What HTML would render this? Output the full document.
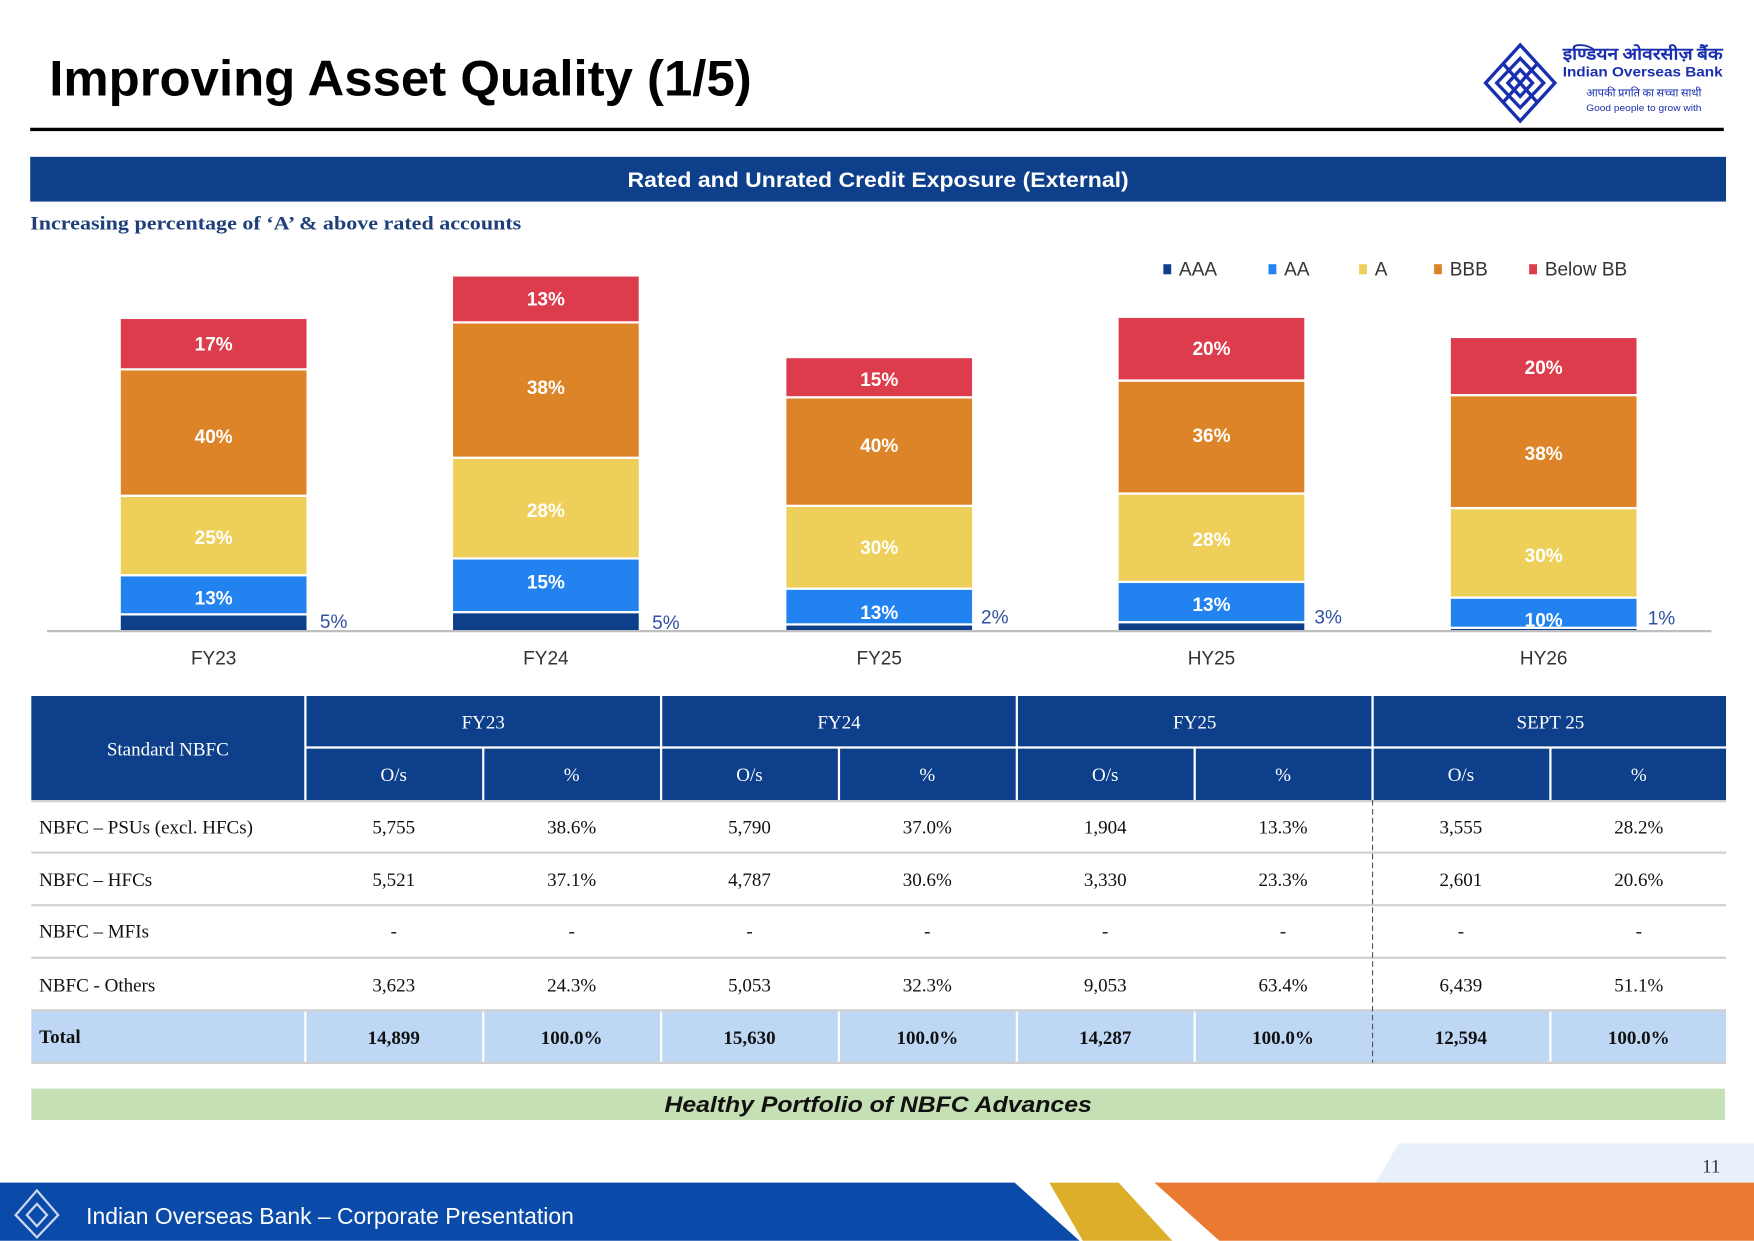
<!DOCTYPE html>
<html><head><meta charset="utf-8"><style>html,body{margin:0;padding:0;background:#fff}svg{display:block}</style></head>
<body>
<svg width="1754" height="1241" viewBox="0 0 1568 1109" xmlns="http://www.w3.org/2000/svg" font-family="Liberation Sans, sans-serif">
<rect width="1568" height="1109" fill="#fff"/>
<text x="44" y="85" font-size="45" font-weight="bold" fill="#000" textLength="628" lengthAdjust="spacingAndGlyphs">Improving Asset Quality (1/5)</text>
<!-- logo -->
<g fill="none" stroke="#1a2fb0" stroke-width="3">
<polygon points="1359,40 1390,74 1359,108 1328,74"/>
<polygon points="1359,52 1380,74 1359,96 1338,74"/>
<polygon points="1359,62 1370,74 1359,86 1348,74"/>
<line x1="1344" y1="57" x2="1374" y2="91"/><line x1="1374" y1="57" x2="1344" y2="91"/>
</g>
<text x="1397" y="53" font-family="Noto Sans CJK SC, sans-serif" font-size="15" font-weight="bold" fill="#1a2fb0" textLength="143" lengthAdjust="spacingAndGlyphs">इण्डियन ओवरसीज़ बैंक</text>
<text x="1397" y="68" font-size="12.5" font-weight="bold" fill="#1a2fb0" textLength="143" lengthAdjust="spacingAndGlyphs">Indian Overseas Bank</text>
<text x="1418" y="86" font-family="Noto Sans CJK SC, sans-serif" font-size="10" fill="#1a2fb0" textLength="103" lengthAdjust="spacingAndGlyphs">आपकी प्रगति का सच्चा साथी</text>
<text x="1418" y="99" font-size="8.5" fill="#1a2fb0" textLength="103" lengthAdjust="spacingAndGlyphs">Good people to grow with</text>
<rect x="27" y="114" width="1514" height="3" fill="#000"/>
<rect x="27" y="140" width="1516" height="40" fill="#0d3f8a"/>
<text x="785" y="167" font-size="19" font-weight="bold" fill="#fff" text-anchor="middle" textLength="448" lengthAdjust="spacingAndGlyphs">Rated and Unrated Credit Exposure (External)</text>
<text x="27" y="205" font-family="Liberation Serif, serif" font-size="17" font-weight="bold" fill="#1f3f7a" textLength="439" lengthAdjust="spacingAndGlyphs">Increasing percentage of ‘A’ &amp; above rated accounts</text>
<!-- legend -->
<g font-size="17" fill="#333">
<rect x="1040" y="236" width="7" height="9" fill="#0d3f8a"/><text x="1054" y="246">AAA</text>
<rect x="1134" y="236" width="7" height="9" fill="#2283f0"/><text x="1148" y="246">AA</text>
<rect x="1215" y="236" width="7" height="9" fill="#eecf5a"/><text x="1229" y="246">A</text>
<rect x="1282" y="236" width="7" height="9" fill="#de8428"/><text x="1296" y="246">BBB</text>
<rect x="1367" y="236" width="7" height="9" fill="#dc3c4c"/><text x="1381" y="246">Below BB</text>
</g>
<!-- bars -->
<g stroke="#fff" stroke-width="2">
<rect x="107" y="549" width="168" height="15" fill="#0d3f8a"/><rect x="107" y="514" width="168" height="35" fill="#2283f0"/><rect x="107" y="443" width="168" height="71" fill="#eecf5a"/><rect x="107" y="330" width="168" height="113" fill="#de8428"/><rect x="107" y="284" width="168" height="46" fill="#dc3c4c"/>
<rect x="404" y="547" width="168" height="17" fill="#0d3f8a"/><rect x="404" y="499" width="168" height="48" fill="#2283f0"/><rect x="404" y="409" width="168" height="90" fill="#eecf5a"/><rect x="404" y="288" width="168" height="121" fill="#de8428"/><rect x="404" y="246" width="168" height="42" fill="#dc3c4c"/>
<rect x="702" y="558" width="168" height="6" fill="#0d3f8a"/><rect x="702" y="526" width="168" height="32" fill="#2283f0"/><rect x="702" y="452" width="168" height="74" fill="#eecf5a"/><rect x="702" y="355" width="168" height="97" fill="#de8428"/><rect x="702" y="319" width="168" height="36" fill="#dc3c4c"/>
<rect x="999" y="556" width="168" height="8" fill="#0d3f8a"/><rect x="999" y="520" width="168" height="36" fill="#2283f0"/><rect x="999" y="441" width="168" height="79" fill="#eecf5a"/><rect x="999" y="340" width="168" height="101" fill="#de8428"/><rect x="999" y="283" width="168" height="57" fill="#dc3c4c"/>
<rect x="1296" y="561" width="168" height="3" fill="#0d3f8a"/><rect x="1296" y="534" width="168" height="27" fill="#2283f0"/><rect x="1296" y="454" width="168" height="80" fill="#eecf5a"/><rect x="1296" y="353" width="168" height="101" fill="#de8428"/><rect x="1296" y="301" width="168" height="52" fill="#dc3c4c"/>
</g>
<rect x="42" y="563" width="1488" height="2" fill="#bfbfbf"/>
<g font-size="17" font-weight="bold" fill="#fff" text-anchor="middle">
<text x="191" y="313">17%</text><text x="191" y="396">40%</text><text x="191" y="486">25%</text><text x="191" y="540">13%</text>
<text x="488" y="273">13%</text><text x="488" y="352">38%</text><text x="488" y="462">28%</text><text x="488" y="526">15%</text>
<text x="786" y="345">15%</text><text x="786" y="404">40%</text><text x="786" y="495">30%</text><text x="786" y="553">13%</text>
<text x="1083" y="317">20%</text><text x="1083" y="395">36%</text><text x="1083" y="488">28%</text><text x="1083" y="546">13%</text>
<text x="1380" y="334">20%</text><text x="1380" y="411">38%</text><text x="1380" y="502">30%</text><text x="1380" y="560">10%</text>
</g>
<g font-size="17" fill="#2f4f9f">
<text x="286" y="561">5%</text><text x="583" y="562">5%</text><text x="877" y="557">2%</text><text x="1175" y="557">3%</text><text x="1473" y="558">1%</text>
</g>
<g font-size="17" fill="#333" text-anchor="middle">
<text x="191" y="594">FY23</text><text x="488" y="594">FY24</text><text x="786" y="594">FY25</text><text x="1083" y="594">HY25</text><text x="1380" y="594">HY26</text>
</g>
<!-- table -->
<rect x="28" y="622" width="1515" height="93" fill="#0d3f8a"/>
<g stroke="#fff" stroke-width="2">
<line x1="273" y1="622" x2="273" y2="715"/><line x1="591" y1="622" x2="591" y2="715"/><line x1="909" y1="622" x2="909" y2="715"/><line x1="1227" y1="622" x2="1227" y2="715"/>
<line x1="432" y1="668" x2="432" y2="715"/><line x1="750" y1="668" x2="750" y2="715"/><line x1="1068" y1="668" x2="1068" y2="715"/><line x1="1386" y1="668" x2="1386" y2="715"/>
<line x1="273" y1="668" x2="1543" y2="668"/>
</g>
<rect x="28" y="903" width="1515" height="47" fill="#bdd7f5"/>
<g stroke="#fff" stroke-width="2">
<line x1="273" y1="903" x2="273" y2="950"/><line x1="432" y1="903" x2="432" y2="950"/><line x1="591" y1="903" x2="591" y2="950"/><line x1="750" y1="903" x2="750" y2="950"/><line x1="909" y1="903" x2="909" y2="950"/><line x1="1068" y1="903" x2="1068" y2="950"/><line x1="1386" y1="903" x2="1386" y2="950"/>
</g>
<g stroke="#d0d0d0" stroke-width="2">
<line x1="28" y1="716" x2="1543" y2="716"/><line x1="28" y1="762" x2="1543" y2="762"/><line x1="28" y1="809" x2="1543" y2="809"/><line x1="28" y1="856" x2="1543" y2="856"/><line x1="28" y1="903" x2="1543" y2="903"/><line x1="28" y1="950" x2="1543" y2="950"/>
</g>
<line x1="1227" y1="715" x2="1227" y2="950" stroke="#555" stroke-width="1" stroke-dasharray="5,3"/>
<g font-family="Liberation Serif, serif" font-size="17" fill="#fff" text-anchor="middle">
<text x="150" y="675">Standard NBFC</text>
<text x="432" y="651">FY23</text><text x="750" y="651">FY24</text><text x="1068" y="651">FY25</text><text x="1386" y="651">SEPT 25</text>
<text x="352" y="698">O/s</text><text x="511" y="698">%</text><text x="670" y="698">O/s</text><text x="829" y="698">%</text><text x="988" y="698">O/s</text><text x="1147" y="698">%</text><text x="1306" y="698">O/s</text><text x="1465" y="698">%</text>
</g>
<g font-family="Liberation Serif, serif" font-size="17" fill="#111" text-anchor="middle">
<text x="35" y="745" text-anchor="start">NBFC – PSUs (excl. HFCs)</text>
<text x="352" y="745">5,755</text><text x="511" y="745">38.6%</text><text x="670" y="745">5,790</text><text x="829" y="745">37.0%</text><text x="988" y="745">1,904</text><text x="1147" y="745">13.3%</text><text x="1306" y="745">3,555</text><text x="1465" y="745">28.2%</text>
<text x="35" y="792" text-anchor="start">NBFC – HFCs</text>
<text x="352" y="792">5,521</text><text x="511" y="792">37.1%</text><text x="670" y="792">4,787</text><text x="829" y="792">30.6%</text><text x="988" y="792">3,330</text><text x="1147" y="792">23.3%</text><text x="1306" y="792">2,601</text><text x="1465" y="792">20.6%</text>
<text x="35" y="838" text-anchor="start">NBFC – MFIs</text>
<text x="352" y="838">-</text><text x="511" y="838">-</text><text x="670" y="838">-</text><text x="829" y="838">-</text><text x="988" y="838">-</text><text x="1147" y="838">-</text><text x="1306" y="838">-</text><text x="1465" y="838">-</text>
<text x="35" y="886" text-anchor="start">NBFC - Others</text>
<text x="352" y="886">3,623</text><text x="511" y="886">24.3%</text><text x="670" y="886">5,053</text><text x="829" y="886">32.3%</text><text x="988" y="886">9,053</text><text x="1147" y="886">63.4%</text><text x="1306" y="886">6,439</text><text x="1465" y="886">51.1%</text>
<g font-weight="bold">
<text x="35" y="932" text-anchor="start">Total</text>
<text x="352" y="933">14,899</text><text x="511" y="933">100.0%</text><text x="670" y="933">15,630</text><text x="829" y="933">100.0%</text><text x="988" y="933">14,287</text><text x="1147" y="933">100.0%</text><text x="1306" y="933">12,594</text><text x="1465" y="933">100.0%</text>
</g>
</g>
<rect x="28" y="973" width="1514" height="28" fill="#c5e0b4"/>
<text x="785" y="994" font-size="20" font-weight="bold" font-style="italic" fill="#111" text-anchor="middle" textLength="382" lengthAdjust="spacingAndGlyphs">Healthy Portfolio of NBFC Advances</text>
<!-- footer -->
<polygon points="1250,1022 1568,1022 1568,1057 1230,1057" fill="#e8f1fb"/>
<text x="1538" y="1048" font-family="Liberation Serif, serif" font-size="17" fill="#333" text-anchor="end">11</text>
<polygon points="0,1057 907,1057 965,1109 0,1109" fill="#0a4aa8"/>
<polygon points="938,1057 1000,1057 1048,1109 968,1109" fill="#dcae2a"/>
<polygon points="1032,1057 1568,1057 1568,1109 1090,1109" fill="#ea7a32"/>
<g fill="none" stroke="#cfd8f0" stroke-width="2">
<polygon points="33,1064 52,1086 33,1106 14,1086"/><polygon points="33,1076 42,1086 33,1096 24,1086"/>
</g>
<text x="77" y="1094" font-size="21" fill="#fff" textLength="436" lengthAdjust="spacingAndGlyphs">Indian Overseas Bank – Corporate Presentation</text>
</svg>
</body></html>
